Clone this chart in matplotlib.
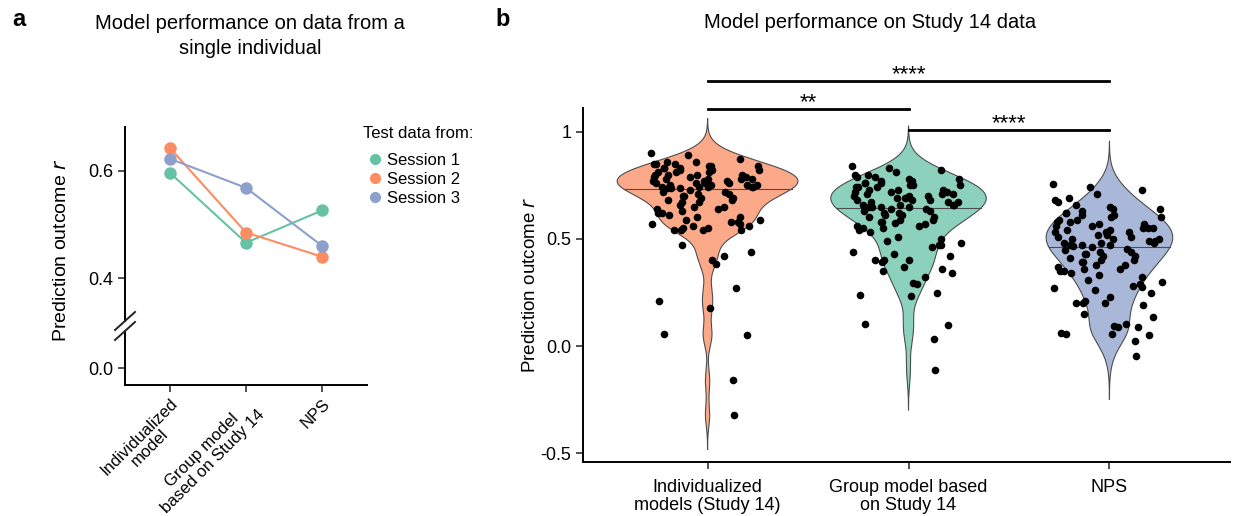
import numpy as np
import matplotlib
matplotlib.use('Agg')
from matplotlib import pyplot as plt
from matplotlib.lines import Line2D

plt.rcParams['font.family'] = ['Liberation Sans', 'DejaVu Sans']
plt.rcParams['axes.unicode_minus'] = False

# ---- data, panel a
models_a = ['Individualized\nmodel', 'Group model\nbased on Study 14', 'NPS']
sessions = ['Session 1', 'Session 2', 'Session 3']
session1 = [0.596, 0.466, 0.526]
session2 = [0.642, 0.485, 0.440]
session3 = [0.622, 0.568, 0.460]
colors = ['#66C2A5', '#FC8D62', '#8DA0CB']

# ---- data, panel b
models_b = ['Individualized\nmodels (Study 14)', 'Group model based\non Study 14', 'NPS']
indiv = [0.90, 0.89, 0.87, 0.86, 0.86, 0.85, 0.85, 0.85, 0.84, 0.84, 0.84, 0.83, 0.83,
         0.83, 0.82, 0.82, 0.82, 0.81, 0.81, 0.81, 0.80, 0.80, 0.80, 0.80, 0.79, 0.79,
         0.79, 0.78, 0.78, 0.78, 0.78, 0.77, 0.77, 0.77, 0.76, 0.76, 0.76, 0.76, 0.75,
         0.75, 0.75, 0.75, 0.74, 0.74, 0.74, 0.74, 0.74, 0.735, 0.735, 0.735,
         0.73, 0.72, 0.72, 0.71, 0.71, 0.70, 0.70, 0.69, 0.69, 0.68, 0.68, 0.67, 0.67,
         0.66, 0.65, 0.65, 0.64, 0.64, 0.63, 0.62, 0.62, 0.61, 0.60, 0.60, 0.59, 0.59,
         0.58, 0.58, 0.57, 0.57, 0.56, 0.56, 0.55, 0.55, 0.54, 0.54, 0.54, 0.54,
         0.47, 0.44, 0.42, 0.40, 0.385, 0.27, 0.21, 0.18, 0.055, 0.05, -0.16, -0.32]
group = [0.84, 0.83, 0.82, 0.81, 0.80, 0.80, 0.79, 0.79, 0.78, 0.78, 0.77, 0.77, 0.76,
         0.76, 0.76, 0.75, 0.75, 0.75, 0.74, 0.74, 0.74, 0.73, 0.73, 0.73, 0.72, 0.72,
         0.72, 0.71, 0.71, 0.71, 0.70, 0.70, 0.70, 0.69, 0.69, 0.69, 0.68, 0.68, 0.68,
         0.67, 0.67, 0.67, 0.66, 0.66, 0.66, 0.66, 0.65, 0.65, 0.65, 0.65,
         0.64, 0.64, 0.63, 0.63, 0.62, 0.62, 0.61, 0.61, 0.60, 0.60, 0.59, 0.59, 0.58,
         0.58, 0.575, 0.57, 0.56, 0.56, 0.55, 0.55, 0.54, 0.53, 0.51, 0.50, 0.49, 0.48,
         0.47, 0.46, 0.47, 0.44, 0.43, 0.42, 0.40, 0.40, 0.40, 0.39, 0.37, 0.36, 0.35,
         0.34, 0.32, 0.295, 0.29, 0.25, 0.24, 0.235, 0.105, 0.10, 0.034, -0.11]
nps = [0.755, 0.74, 0.73, 0.71, 0.69, 0.68, 0.67, 0.66, 0.65, 0.64, 0.64, 0.63, 0.62,
       0.62, 0.61, 0.61, 0.60, 0.60, 0.59, 0.59, 0.58, 0.58, 0.57, 0.57, 0.56, 0.56,
       0.55, 0.55, 0.55, 0.54, 0.54, 0.53, 0.53, 0.53, 0.52, 0.52, 0.51, 0.51, 0.50,
       0.50, 0.50, 0.49, 0.49, 0.48, 0.48, 0.48, 0.47, 0.47, 0.47, 0.465,
       0.46, 0.455, 0.45, 0.44, 0.44, 0.43, 0.43, 0.42, 0.42, 0.41, 0.40, 0.40, 0.39,
       0.39, 0.38, 0.38, 0.37, 0.36, 0.36, 0.35, 0.35, 0.34, 0.33, 0.32, 0.31, 0.30,
       0.29, 0.28, 0.275, 0.27, 0.26, 0.25, 0.23, 0.21, 0.20, 0.20, 0.20, 0.19, 0.15,
       0.135, 0.105, 0.092, 0.09, 0.088, 0.063, 0.058, 0.055, 0.054, 0.026, -0.047]
comparisons = [(0, 2, '****'), (0, 1, '**'), (1, 2, '****')]

W, H = 1233, 516
fig = plt.figure(figsize=(W / 100, H / 100), dpi=100)


def frac(x0, y0, x1, y1):
    # pixel box -> figure fraction rect
    return [x0 / W, 1 - y1 / H, (x1 - x0) / W, (y1 - y0) / H]


# ================= panel a (broken y axis) =================
ax_t = fig.add_axes(frac(125, 127, 367, 321))
ax_b = fig.add_axes(frac(125, 331, 367, 385))
xa = np.arange(len(models_a))
for ax in (ax_t, ax_b):
    for vals, c in zip([session1, session2, session3], colors):
        ax.plot(xa, vals, color=c, lw=1.5, marker='o', ms=9, mec=c, mew=0)
    ax.set_xlim(-0.59, 2.59)
    ax.spines['right'].set_visible(False)
    ax.spines['top'].set_visible(False)
    ax.spines['left'].set_linewidth(1.4)
    ax.tick_params(width=1.2, length=5, labelsize=13, color='#333333')
ax_t.set_ylim(0.3206, 0.681)
ax_t.set_yticks([0.4, 0.6])
ax_t.set_yticklabels(['0.4', '0.6'])
ax_t.spines['bottom'].set_visible(False)
ax_t.set_xticks([])
ax_b.set_ylim(-0.031, 0.0694)
ax_b.set_yticks([0.0])
ax_b.set_yticklabels(['0.0'])
ax_b.spines['bottom'].set_linewidth(1.4)
ax_b.set_xticks(xa)
ax_b.set_xticklabels(models_a, rotation=45, ha='right', rotation_mode='anchor',
                     multialignment='center', fontsize=12, linespacing=1.0)
ax_b.tick_params(axis='x', pad=3)

for yy in (321, 331):
    fig.add_artist(Line2D([115 / W, 135 / W], [1 - (yy + 9) / H, 1 - (yy - 9) / H],
                          color='#222222', lw=1.4))

fig.text(62 / W, 1 - 250 / H, 'Prediction outcome $r$', rotation=90, ha='center',
         va='center', fontsize=14)
fig.text(250 / W, 1 - 36 / H, 'Model performance on data from a\nsingle individual',
         ha='center', va='center', fontsize=14.5, linespacing=1.35)
fig.text(12 / W, 1 - 20 / H, 'a', fontsize=17, fontweight='bold', va='center')

fig.text(363 / W, 1 - 133 / H, 'Test data from:', fontsize=12, va='center', ha='left')
handles = [Line2D([], [], color=c, marker='o', ls='', ms=7) for c in colors]
leg = fig.legend(handles, sessions, loc='upper left',
                 bbox_to_anchor=(357 / W, 1 - 146 / H), frameon=False, fontsize=12,
                 handletextpad=0.0, labelspacing=0.25, borderaxespad=0,
                 handlelength=1.4)


# ================= panel b (violins) =================
def nrd0(v):
    v = np.asarray(v)
    iqr = np.subtract(*np.percentile(v, [75, 25]))
    return 0.9 * min(v.std(ddof=1), iqr / 1.34) * len(v) ** -0.2


def kde(v, grid, bw):
    z = (grid[:, None] - np.asarray(v)[None, :]) / bw
    return np.exp(-0.5 * z ** 2).sum(axis=1) / (len(v) * bw * np.sqrt(2 * np.pi))


axv = fig.add_axes(frac(583, 108, 1230, 462))
groups = [indiv, group, nps]
fills = [colors[1], colors[0], colors[2]]
curves = []
for v in groups:
    bw = nrd0(v)
    grid = np.linspace(min(v) - 3 * bw, max(v) + 3 * bw, 512)
    curves.append((grid, kde(v, grid, bw)))
dmax = max(d.max() for _, d in curves)

for i, (v, (grid, d), c) in enumerate(zip(groups, curves, fills)):
    w = d / dmax * 0.45
    axv.fill_betweenx(grid, i - w, i + w, facecolor=c, alpha=0.75, edgecolor='none', zorder=1)
    axv.plot(np.r_[i - w, (i + w)[::-1]], np.r_[grid, grid[::-1]], color='#4d4d4d', lw=0.8, zorder=2)
    med = np.median(v)
    wm = np.interp(med, grid, w)
    axv.plot([i - wm, i + wm], [med, med], color='#4d4d4d', lw=0.8, zorder=2)
    # deterministic horizontal jitter (quadratic Weyl sequence)
    k = np.arange(len(v))
    jit = ((k * 0.7548776662 + k * k * 0.5698402910) % 1 - 0.5) * 2 * 0.28
    axv.scatter(i + jit, v, s=30, color='black', zorder=3, linewidths=0)

axv.set_xlim(-0.62, 2.6)
axv.set_ylim(-0.54, 1.11)
axv.set_yticks([-0.5, 0.0, 0.5, 1.0])
axv.set_yticklabels(['-0.5', '0.0', '0.5', '1'])
axv.set_xticks(range(3))
axv.set_xticklabels(models_b, fontsize=13, linespacing=1.1)
axv.spines['right'].set_visible(False)
axv.spines['top'].set_visible(False)
for s in ('left', 'bottom'):
    axv.spines[s].set_linewidth(1.4)
axv.tick_params(width=1.2, length=5, labelsize=13, color='#333333')
axv.tick_params(axis='x', pad=7)
axv.set_ylabel('Prediction outcome $r$', fontsize=13.5, labelpad=1)

bar_y = [1.236, 1.107, 1.009]
for (a, b, lab), by in zip(comparisons, bar_y):
    axv.plot([a, b], [by, by], color='black', lw=2, clip_on=False)
    axv.text((a + b) / 2, by + 0.004, lab, ha='center', va='baseline', fontsize=16)

fig.text(870 / W, 1 - 22 / H, 'Model performance on Study 14 data', ha='center',
         va='center', fontsize=14.5)
fig.text(495 / W, 1 - 20 / H, 'b', fontsize=17, fontweight='bold', va='center')

fig.savefig('out.png', dpi=100)
